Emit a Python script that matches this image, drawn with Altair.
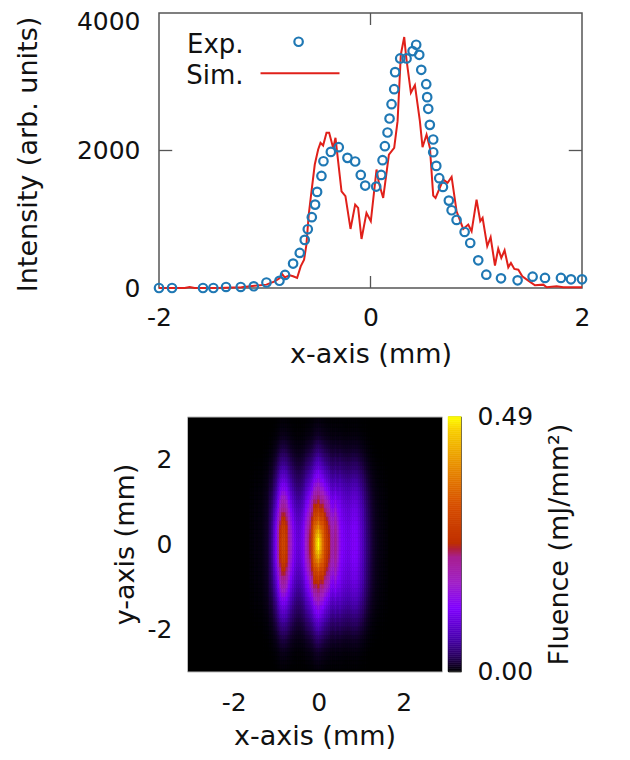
import altair as alt
import pandas as pd

FONT = "DejaVu Sans"
FS = 25
TS = 27
GREY = "#555555"

# ---------- top panel data ----------
exp_x = [-2.0,-1.877,-1.584,-1.486,-1.366,-1.227,-1.104,-0.984,-0.861,-0.808,-0.732,-0.669,-0.622,-0.593,-0.555,-0.524,-0.505,-0.464,-0.445,-0.375,-0.300,-0.218,-0.145,-0.092,-0.050,0.054,0.101,0.114,0.136,0.161,0.180,0.199,0.224,0.233,0.281,0.341,0.398,0.432,0.461,0.480,0.527,0.536,0.546,0.561,0.593,0.593,0.622,0.650,0.685,0.741,0.767,0.814,0.890,0.943,1.019,1.095,1.234,1.391,1.533,1.650,1.801,1.896,2.0]
exp_y = [0,0,0,0,15,15,25,80,105,190,355,510,700,855,1030,1213,1398,1630,1844,1980,2048,1893,1840,1645,1490,1475,1645,1859,2063,2262,2465,2674,2892,3140,3339,3339,3446,3538,3392,3174,2965,2776,2606,2373,2160,1975,1776,1597,1470,1271,1131,990,815,655,403,194,141,112,165,146,146,126,126]
sim_x = [-2.0,-1.757,-1.710,-1.663,-1.442,-1.221,-1.095,-0.984,-0.906,-0.858,-0.836,-0.811,-0.764,-0.732,-0.694,-0.660,-0.628,-0.606,-0.584,-0.558,-0.527,-0.495,-0.473,-0.448,-0.416,-0.391,-0.353,-0.331,-0.274,-0.237,-0.189,-0.145,-0.117,-0.085,-0.038,0.003,0.057,0.079,0.120,0.174,0.224,0.256,0.287,0.319,0.338,0.382,0.420,0.467,0.492,0.530,0.562,0.593,0.615,0.688,0.729,0.767,0.814,0.877,0.924,0.956,1.003,1.038,1.060,1.104,1.136,1.177,1.208,1.237,1.268,1.303,1.328,1.360,1.398,1.435,1.492,1.555,1.634,1.666,1.760,1.823,2.0]
sim_y = [0,0,15,0,0,10,34,49,97,146,204,155,184,170,146,315,412,631,1068,1407,1796,2014,2111,2072,2257,2257,2038,2184,1407,1335,859,1213,1165,713,1092,971,1723,1529,1310,1941,2038,2427,3397,3650,3349,2839,2951,2427,2048,2232,2038,1344,1310,1577,1529,1616,1116,859,922,825,1286,971,1019,607,738,325,573,437,548,301,364,277,267,170,107,39,49,10,24,10,10]

# tick stubs drawn inside the frame, in data units
xtick_x = [0, 0, 0, 0]
xtick_y = [0, 175, 3825, 4000]
xtick_g = ["b", "b", "t", "t"]
ytick_x = [-2, -1.875, 1.875, 2]
ytick_y = [2000, 2000, 2000, 2000]
ytick_g = ["l", "l", "r", "r"]

legend_labels = ["Exp.", "Sim."]
legend_label_x = [-1.20, -1.20]
legend_label_y = [3530, 3090]
legend_pt_x = [-0.68]
legend_pt_y = [3582]
legend_line_x = [-1.04, -0.293]
legend_line_y = [3123, 3123]

# ---------- bottom panel data ----------
col_x = [-1.60,-1.55,-1.50,-1.45,-1.40,-1.35,-1.30,-1.25,-1.20,-1.15,-1.10,-1.05,-1.00,-0.95,-0.90,-0.85,-0.80,-0.75,-0.70,-0.65,-0.60,-0.55,-0.50,-0.45,-0.40,-0.35,-0.30,-0.25,-0.20,-0.15,-0.10,-0.05,0.00,0.05,0.10,0.15,0.20,0.25,0.30,0.35,0.40,0.45,0.50,0.55,0.60,0.65,0.70,0.75,0.80,0.85,0.90,0.95,1.00,1.05,1.10,1.15,1.20,1.25,1.30,1.35,1.40,1.45,1.50,1.55,1.60]
col_peak = [.003,.003,.005,.004,.006,.006,.008,.012,.015,.03,.05,.085,.125,.19,.26,.30,.30,.27,.21,.17,.14,.115,.10,.10,.11,.13,.17,.20,.24,.29,.37,.45,.49,.43,.36,.31,.28,.25,.20,.19,.22,.18,.14,.125,.12,.115,.11,.115,.125,.125,.12,.105,.09,.075,.055,.04,.03,.02,.014,.01,.008,.006,.005,.004,.003]
col_class = ["C"]*10 + ["B"]*21 + ["A"]*3 + ["B"]*8 + ["C"]*23
row_y = [0,.1,.2,.3,.4,.5,.6,.7,.8,.9,1.0,1.1,1.2,1.3,1.4,1.5,1.6,1.7,1.8,1.9,2.0,2.1,2.2,2.3,2.4,2.5,2.6,2.7,2.8,2.9]
row_A = [1,.99,.95,.89,.82,.76,.70,.65,.60,.55,.50,.46,.42,.38,.34,.30,.27,.24,.20,.17,.14,.11,.085,.065,.05,.035,.025,.02,.015,.01]
row_B = [1,.995,.98,.96,.93,.89,.84,.79,.73,.67,.62,.56,.50,.44,.39,.34,.29,.25,.21,.17,.14,.11,.085,.065,.05,.035,.025,.02,.015,.01]
row_C = [1,1,.99,.98,.96,.94,.92,.89,.86,.82,.78,.73,.67,.61,.55,.49,.42,.36,.30,.25,.20,.16,.12,.09,.07,.05,.035,.025,.02,.015]
rows = {"A": row_A, "B": row_B, "C": row_C}

# colour stops: fluence -> colour
pal_val = [0, .03, .065, .1225, .17, .22, .235, .2475, .32, .39, .465, .49]
pal_col = ["#000000", "#2a0060", "#4a00b0", "#8000ff", "#a020c8", "#a82090", "#b02040", "#c03000", "#d85000", "#e88a00", "#f8d000", "#ffff00"]
bar_levels = [i * 0.49 / 127 for i in range(128)]

# ---------- build tables ----------
exp_df = pd.DataFrame({"x": exp_x, "y": exp_y})
sim_df = pd.DataFrame({"x": sim_x, "y": sim_y})
xt_df = pd.DataFrame({"x": xtick_x, "y": xtick_y, "g": xtick_g})
yt_df = pd.DataFrame({"x": ytick_x, "y": ytick_y, "g": ytick_g})

cells = []
for cx, peak, cls in zip(col_x, col_peak, col_class):
    for ry, fall in zip(row_y, rows[cls]):
        for sign in ([1] if ry == 0 else [1, -1]):
            cells.append({"x": cx - .025, "x2": cx + .025, "y": sign * ry - .05, "y2": sign * ry + .05, "v": peak * fall})
heat_df = pd.DataFrame(cells)
bar_df = pd.DataFrame({"v": bar_levels, "v0": [max(v - .002, 0) for v in bar_levels], "v1": [min(v + .002, .49) for v in bar_levels]})

cmap = alt.Scale(domain=pal_val, range=pal_col, clamp=True, interpolate="rgb")
sx = alt.Scale(domain=[-2, 2], nice=False)
sy = alt.Scale(domain=[0, 4000], nice=False)

x_axis = alt.Axis(values=[-2, 0, 2], labelExpr="toString(datum.value)", title="x-axis (mm)", grid=False, domain=False, tickSize=0,
                  labelFont=FONT, titleFont=FONT, labelFontSize=FS, titleFontSize=TS, labelFontWeight="normal", titleFontWeight="normal",
                  labelColor="#111", titleColor="#111", labelPadding=17, titlePadding=11, labelFlush=False)
y_axis = alt.Axis(values=[0, 2000, 4000], title="Intensity (arb. units)", format="d", grid=False, domain=False, tickSize=0,
                  labelFont=FONT, titleFont=FONT, labelFontSize=FS, titleFontSize=TS, titleFontWeight="normal",
                  labelColor="#111", titleColor="#111", labelPadding=19, titlePadding=34, labelFlush=False, titleY=141,
                  labelOffset=alt.condition("datum.value == 4000", alt.value(8), alt.value(0)))

base = alt.Chart(sim_df).mark_line(color="#e0201a", strokeWidth=2, interpolate="linear").encode(
    x=alt.X("x:Q", scale=sx, axis=x_axis), y=alt.Y("y:Q", scale=sy, axis=y_axis))
pts = alt.Chart(exp_df).mark_point(shape="circle", filled=False, size=72, strokeWidth=2.2, color="#1f78b4", opacity=1).encode(
    x=alt.X("x:Q", scale=sx), y=alt.Y("y:Q", scale=sy))
xt = alt.Chart(xt_df).mark_line(color=GREY, strokeWidth=1.3).encode(x=alt.X("x:Q", scale=sx), y=alt.Y("y:Q", scale=sy), detail="g:N")
yt = alt.Chart(yt_df).mark_line(color=GREY, strokeWidth=1.3).encode(x=alt.X("x:Q", scale=sx), y=alt.Y("y:Q", scale=sy), detail="g:N")
leg_text = alt.Chart(pd.DataFrame({"t": legend_labels, "x": legend_label_x, "y": legend_label_y})).mark_text(
    font=FONT, fontSize=26, align="right", baseline="middle", color="#111").encode(
    x=alt.X("x:Q", scale=sx), y=alt.Y("y:Q", scale=sy), text="t:N")
leg_pt = alt.Chart(pd.DataFrame({"x": legend_pt_x, "y": legend_pt_y})).mark_point(
    shape="circle", filled=False, size=72, strokeWidth=2.2, color="#1f78b4", opacity=1).encode(x=alt.X("x:Q", scale=sx), y=alt.Y("y:Q", scale=sy))
leg_line = alt.Chart(pd.DataFrame({"x": legend_line_x, "y": legend_line_y})).mark_line(color="#e0201a", strokeWidth=2).encode(
    x=alt.X("x:Q", scale=sx), y=alt.Y("y:Q", scale=sy))

top = alt.layer(xt, yt, base, pts, leg_text, leg_pt, leg_line).properties(
    width=423, height=275, view=alt.ViewConfig(stroke=GREY, strokeWidth=1.5, fill="white"))

hx = alt.Scale(domain=[-3.1, 2.9], nice=False)
hy = alt.Scale(domain=[-3, 3], nice=False)
hx_axis = alt.Axis(values=[-2, 0, 2], labelExpr="toString(datum.value)", title="x-axis (mm)", grid=False, domain=False, tickSize=0,
                   labelFont=FONT, titleFont=FONT, labelFontSize=FS, titleFontSize=TS, titleFontWeight="normal",
                   labelColor="#111", titleColor="#111", labelPadding=19, titlePadding=8)
hy_axis = alt.Axis(values=[-2, 0, 2], labelExpr="toString(datum.value)", title="y-axis (mm)", grid=False, domain=False, tickSize=0,
                   labelFont=FONT, titleFont=FONT, labelFontSize=FS, titleFontSize=TS, titleFontWeight="normal",
                   labelColor="#111", titleColor="#111", labelPadding=15, titlePadding=8)
heat = alt.Chart(heat_df).mark_rect(strokeWidth=0.5).encode(
    x=alt.X("x:Q", scale=hx, axis=hx_axis), x2="x2:Q",
    y=alt.Y("y:Q", scale=hy, axis=hy_axis), y2="y2:Q",
    color=alt.Color("v:Q", scale=cmap, legend=None),
    stroke=alt.Stroke("v:Q", scale=cmap, legend=None)).properties(
    width=255, height=255, view=alt.ViewConfig(stroke="#bbbbbb", strokeWidth=1, fill="#000000"))

bar = alt.Chart(bar_df).mark_rect(strokeWidth=0.5).encode(
    y=alt.Y("v0:Q", scale=alt.Scale(domain=[0, .49], nice=False),
            axis=alt.Axis(orient="right", values=[0, .49], format=".2f", title="Fluence (mJ/mm²)", titleAngle=270, grid=False, domain=False, tickSize=0,
                          labelFont=FONT, titleFont=FONT, labelFontSize=FS, titleFontSize=TS, titleFontWeight="normal",
                          labelColor="#111", titleColor="#111", labelPadding=16, titlePadding=41, labelFlush=False)),
    y2="v1:Q",
    color=alt.Color("v:Q", scale=cmap, legend=None),
    stroke=alt.Stroke("v:Q", scale=cmap, legend=None)).properties(
    width=13, height=255, view=alt.ViewConfig(stroke=GREY, strokeWidth=1, fill="white"))

spacer = alt.Chart(pd.DataFrame({"a": [0]})).mark_point(opacity=0).encode(
    x=alt.X("a:Q", axis=None), y=alt.Y("a:Q", axis=None)).properties(
    width=22, height=255, view=alt.ViewConfig(stroke=None, fill=None))

bottom = alt.hconcat(spacer, heat, bar, spacing=6, bounds="flush").resolve_scale(color="independent", stroke="independent")

chart = alt.vconcat(top, bottom, spacing=35.5, bounds="full").resolve_scale(x="independent", y="independent").properties(
    padding={"left": 5, "top": 0, "right": 0, "bottom": 0}, background="white")

chart.save("out.html", embed_options={"renderer": "svg", "actions": False})
